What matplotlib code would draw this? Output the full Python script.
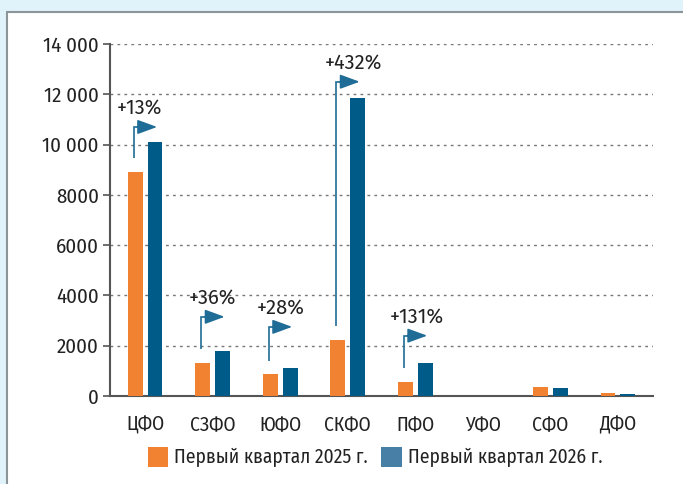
import matplotlib
matplotlib.use("Agg")
import matplotlib.pyplot as plt
from matplotlib.patches import Rectangle, Patch
from matplotlib import font_manager
import numpy as np

categories = ['ЦФО', 'СЗФО', 'ЮФО', 'СКФО', 'ПФО', 'УФО', 'СФО', 'ДФО']
q2025 = [8900, 1300, 860, 2225, 560, 0, 360, 110]
q2026 = [10100, 1770, 1100, 11840, 1295, 0, 310, 90]
yticks = [0, 2000, 4000, 6000, 8000, 10000, 12000, 14000]
ytick_labels = ['0', '2000', '4000', '6000', '8000', '10 000', '12 000', '14 000']
series_names = ['Первый квартал 2025 г.', 'Первый квартал 2026 г.']

# growth annotations: category index, label, arrow level, label x shift
ann_idx = [0, 1, 2, 3, 4]
ann_text = ['+13%', '+36%', '+28%', '+432%', '+131%']
ann_level = [10700, 3150, 2750, 12500, 2400]
ann_dx = [-0.09, 0.0, 0.0, 0.08, 0.02]

ORANGE = '#f08232'
BLUE = '#005b88'
BLUE_LEG = '#477fa6'
ARROW = '#1f6d96'
TXT = '#222222'

installed = {f.name for f in font_manager.fontManager.ttflist}
cands = ['Fira Sans Condensed', 'PT Sans Narrow', 'Roboto Condensed', 'Roboto']
fam = [c for c in cands if c in installed][0]
ann_fam = [c for c in ['Fira Sans', 'Open Sans', 'Roboto'] if c in installed][0]
plt.rcParams['font.family'] = [fam, 'DejaVu Sans']
FS = 14

W, H = 683, 484
fig = plt.figure(figsize=(W / 100, H / 100), dpi=100)
fig.patch.set_facecolor('#e1f3fa')
fig.patches.append(Rectangle((7 / W, -0.2), 2, (H - 12) / H + 0.2, transform=fig.transFigure,
                             facecolor='white', edgecolor='#8a9499', lw=1.5, zorder=-5))

ax = fig.add_axes([110 / W, 1 - 396 / H, (653 - 110) / W, (396 - 44) / H])
ax.set_zorder(3)
ax.set_facecolor('none')

x = np.arange(len(categories))
bw = 0.22
off = 0.147
ax.bar(x - off, q2025, bw, color=ORANGE, zorder=3)
ax.bar(x + off, q2026, bw, color=BLUE, zorder=3)

ax.set_xlim(-0.52, 7.52)
ax.set_ylim(0, 14000)
ax.set_yticks(yticks)
ax.set_yticklabels(ytick_labels)
ax.set_xticks(x)
ax.set_xticklabels(categories)

for s in ['top', 'right']:
    ax.spines[s].set_visible(False)
for s in ['left', 'bottom']:
    ax.spines[s].set_color('#555555')
    ax.spines[s].set_linewidth(1.5)

ax.tick_params(axis='y', length=5, width=1.2, color='#555555', pad=3, labelsize=15, labelcolor=TXT)
ax.tick_params(axis='x', length=0, pad=14, labelsize=FS, labelcolor=TXT)
ax.yaxis.grid(True, linestyle=(0, (2, 3)), color='#777777', lw=1, zorder=1)
for gl in ax.yaxis.get_gridlines()[:1]:
    gl.set_visible(False)

for i, t, lev, dx in zip(ann_idx, ann_text, ann_level, ann_dx):
    x0 = i - off - 0.02
    y0 = q2025[i] + 550
    xe = i + off + 0.03
    ax.plot([x0, x0, x0 + 0.1], [y0, lev, lev], color=ARROW, lw=1.2, zorder=4,
            solid_capstyle='butt', solid_joinstyle='miter')
    ax.annotate('', xy=(xe, lev), xytext=(x0 + 0.05, lev),
                arrowprops=dict(arrowstyle='-|>,head_length=0.6,head_width=0.22',
                                mutation_scale=20, color=ARROW, lw=1.2, shrinkA=0, shrinkB=0),
                zorder=4)
    ax.text(i + dx, lev + 760, t, ha='center', va='center', fontsize=14.5,
            family=[ann_fam, 'DejaVu Sans'], color=TXT, zorder=5)

handles = [Patch(facecolor=ORANGE, edgecolor='none'), Patch(facecolor=BLUE_LEG, edgecolor='none')]
fig.legend(handles, series_names, loc='center', bbox_to_anchor=(375 / W, 1 - 457 / H),
           ncol=2, frameon=False, fontsize=FS, handlelength=1.05, handleheight=1.25,
           handletextpad=0.3, columnspacing=0.7, labelcolor=TXT)

fig.savefig('out.png', dpi=100, facecolor=fig.get_facecolor())
